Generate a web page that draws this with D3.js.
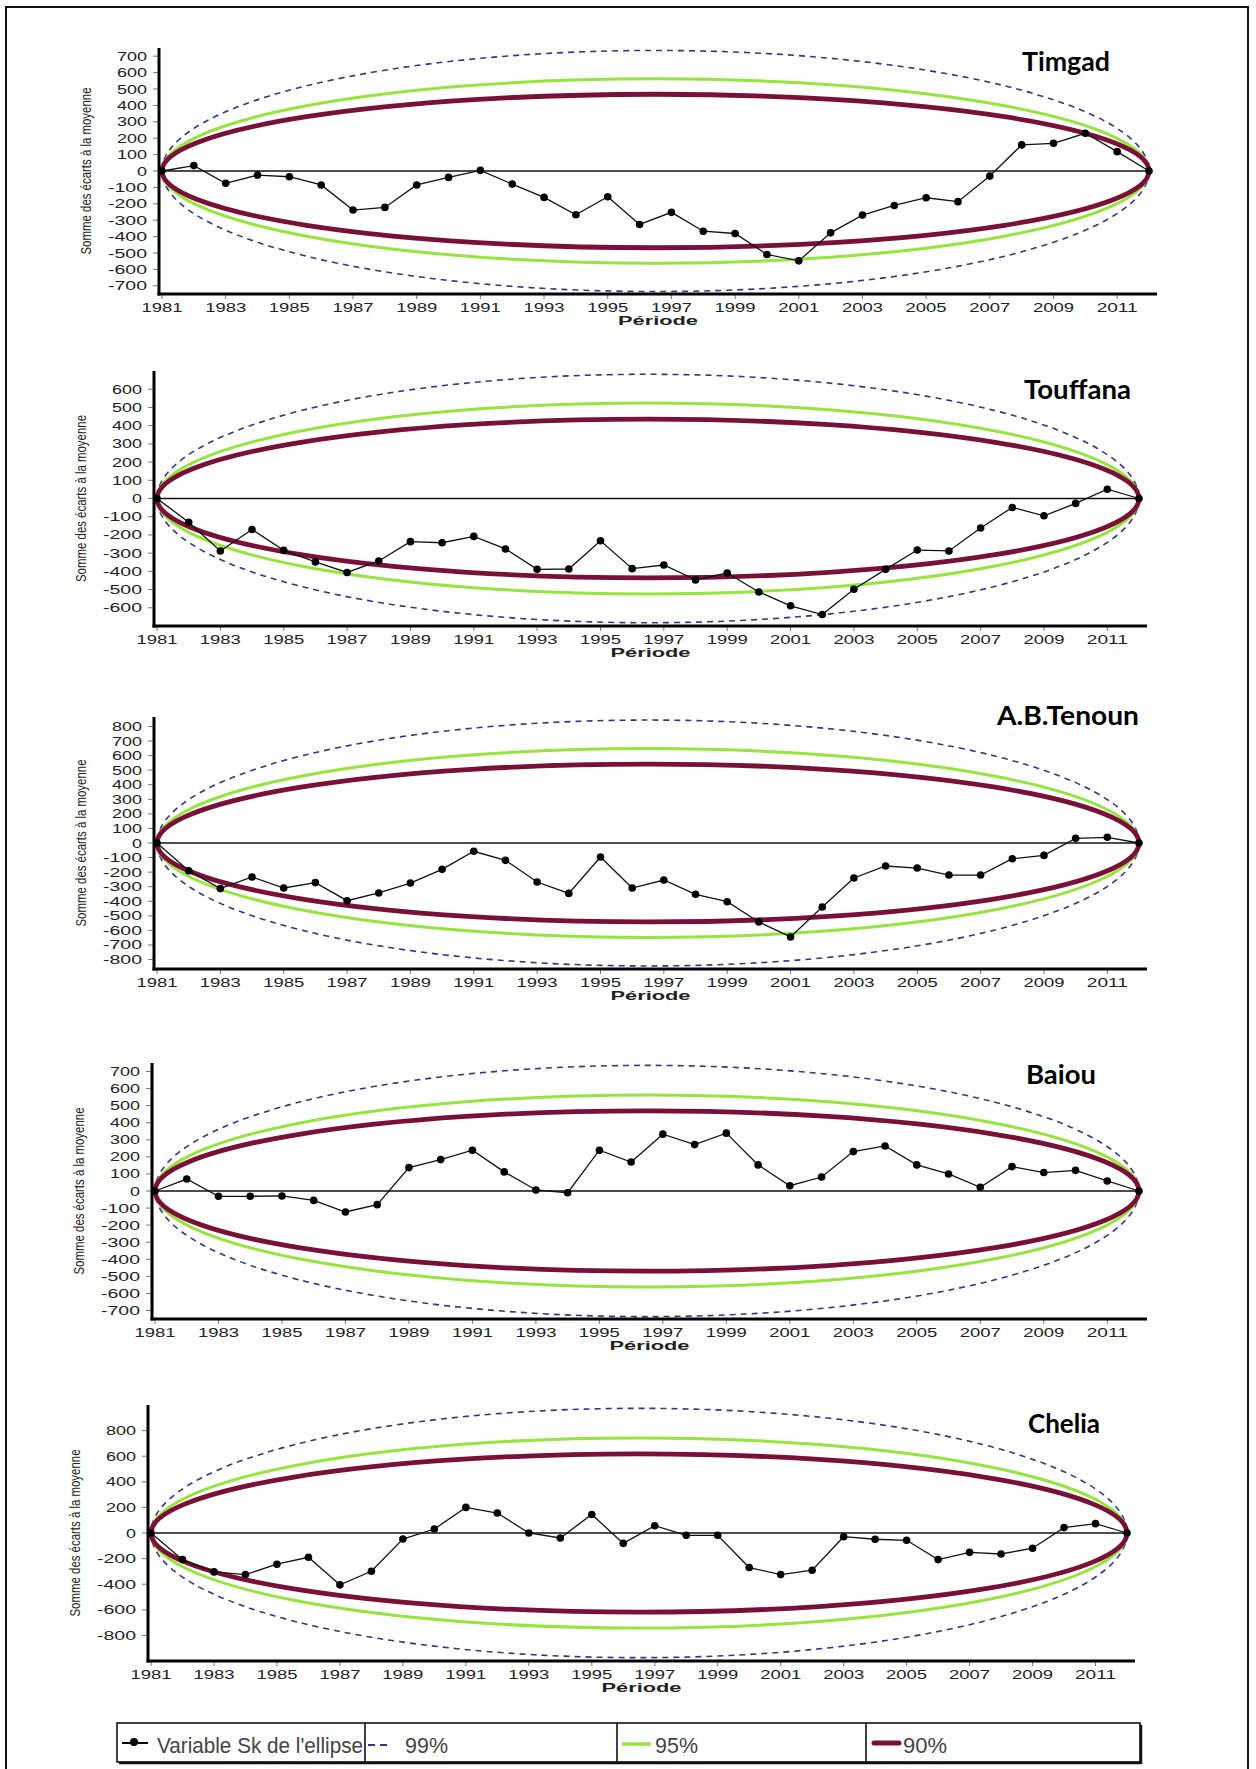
<!DOCTYPE html>
<html>
<head>
<meta charset="utf-8">
<script src="https://cdn.jsdelivr.net/npm/d3@7"></script>
<style>
  html, body { margin: 0; padding: 0; background: #fff; }
  svg { display: block; }
</style>
</head>
<body>
<svg id="chart" width="1256" height="1769"></svg>
<script>
// ---------------- DATA ----------------
const years = [1981,1982,1983,1984,1985,1986,1987,1988,1989,1990,1991,1992,1993,1994,1995,1996,
               1997,1998,1999,2000,2001,2002,2003,2004,2005,2006,2007,2008,2009,2010,2011,2012];
const stations = ["Timgad", "Touffana", "A.B.Tenoun", "Baiou", "Chelia"];

const timgad   = [0, 33, -75, -25, -35, -85, -238, -222, -85, -39, 4, -80, -161, -267, -157, -326,
                  -252, -367, -381, -509, -548, -377, -269, -210, -163, -187, -31, 159, 169, 230, 118, 0];
const touffana = [0, -130, -288, -170, -285, -348, -406, -343, -237, -243, -208, -277, -389, -387, -232, -385,
                  -365, -447, -409, -513, -589, -637, -498, -389, -283, -288, -162, -49, -95, -27, 51, 0];
const abTenoun = [0, -190, -313, -233, -309, -272, -396, -343, -275, -181, -57, -119, -268, -346, -96, -309,
                  -254, -352, -403, -542, -645, -439, -240, -158, -172, -220, -220, -108, -85, 32, 39, 0];
const baiou    = [0, 70, -31, -31, -29, -55, -123, -80, 137, 184, 239, 112, 6, -10, 239, 170,
                  333, 272, 339, 153, 31, 82, 231, 264, 153, 100, 22, 143, 108, 121, 59, 0];
const chelia   = [0, -208, -304, -325, -244, -190, -405, -299, -47, 31, 200, 156, 0, -39, 145, -81,
                  57, -18, -18, -270, -325, -291, -29, -49, -57, -208, -151, -164, -119, 42, 73, 0];
const seriesValues = [timgad, touffana, abTenoun, baiou, chelia];

// peak half-height of Bois control ellipses
const ellipse90 = [468, 436, 542, 470, 618];
const ellipse95 = [562, 524, 648, 562, 743];
const ellipse99 = [735, 682, 844, 736, 974];

const yTicksTimgad   = [-700,-600,-500,-400,-300,-200,-100,0,100,200,300,400,500,600,700];
const yTicksTouffana = [-600,-500,-400,-300,-200,-100,0,100,200,300,400,500,600];
const yTicksTenoun   = [-800,-700,-600,-500,-400,-300,-200,-100,0,100,200,300,400,500,600,700,800];
const yTicksBaiou    = [-700,-600,-500,-400,-300,-200,-100,0,100,200,300,400,500,600,700];
const yTicksChelia   = [-800,-600,-400,-200,0,200,400,600,800];
const yTickSets = [yTicksTimgad, yTicksTouffana, yTicksTenoun, yTicksBaiou, yTicksChelia];
const yLimits = [750, 700, 865, 750, 1000];

const xTickYears = [1981,1983,1985,1987,1989,1991,1993,1995,1997,1999,2001,2003,2005,2007,2009,2011];
const yAxisTitle = "Somme des écarts à la moyenne";
const xAxisTitle = "Période";
const legendLabels = ["Variable Sk de l'ellipse", "99%", "95%", "90%"];

// ---------------- LAYOUT (positions / styles) ----------------
const panels = [
  { x0: 162, x1: 1149, top: 48,   bottom: 294,  title: { x: 1022, y: 71,   w: 88 } },
  { x0: 157, x1: 1139, top: 371,  bottom: 626,  title: { x: 1024, y: 399,  w: 107 } },
  { x0: 157, x1: 1139, top: 717,  bottom: 969,  title: { x: 997,  y: 725,  w: 142 } },
  { x0: 155, x1: 1139, top: 1063, bottom: 1319, title: { x: 1026, y: 1084, w: 70 } },
  { x0: 151, x1: 1127, top: 1405, bottom: 1661, title: { x: 1028, y: 1433, w: 72 } }
];
const C90 = "#7a1038", C95 = "#96e43c", C99 = "#35358a";
const tickFont = "'Liberation Sans', Arial, sans-serif";

const svg = d3.select("#chart");
svg.append("rect").attr("width", 1256).attr("height", 1769).attr("fill", "#fff");

function labelWidth(v) {
  const s = String(Math.abs(v));
  return s.length * 10 + (v < 0 ? 9 : 0);
}

panels.forEach((p, i) => {
  const g = svg.append("g");
  const lim = yLimits[i];
  const x = d3.scaleLinear().domain([years[0], years[years.length - 1]]).range([p.x0, p.x1]);
  const y = d3.scaleLinear().domain([-lim, lim]).range([p.bottom, p.top]);
  const axisX = p.x0 - 3;
  const mid = (years[0] + years[years.length - 1]) / 2;

  // control ellipses
  const ells = [
    { v: ellipse99[i], c: C99, w: 1.6, dash: "6,5" },
    { v: ellipse95[i], c: C95, w: 3, dash: null },
    { v: ellipse90[i], c: C90, w: 4.8, dash: null }
  ];
  ells.forEach(e => {
    g.append("ellipse")
      .attr("cx", x(mid)).attr("cy", y(0))
      .attr("rx", x(years[years.length - 1]) - x(mid))
      .attr("ry", y(0) - y(e.v))
      .attr("fill", "none")
      .attr("stroke", e.c)
      .attr("stroke-width", e.w)
      .attr("stroke-dasharray", e.dash);
  });

  // zero line
  g.append("line")
    .attr("x1", axisX).attr("x2", x(years[years.length - 1]))
    .attr("y1", y(0)).attr("y2", y(0))
    .attr("stroke", "#111").attr("stroke-width", 1.3);

  // series
  const vals = seriesValues[i];
  const line = d3.line().x((d, k) => x(years[k])).y(d => y(d));
  g.append("path").datum(vals)
    .attr("d", line).attr("fill", "none")
    .attr("stroke", "#111").attr("stroke-width", 1.3);
  g.selectAll("circle.pt").data(vals).enter().append("circle")
    .attr("class", "pt")
    .attr("cx", (d, k) => x(years[k])).attr("cy", d => y(d))
    .attr("r", 3.8).attr("fill", "#000");

  // y ticks & labels
  yTickSets[i].forEach(t => {
    g.append("line")
      .attr("x1", axisX - 6).attr("x2", axisX)
      .attr("y1", y(t)).attr("y2", y(t))
      .attr("stroke", "#777").attr("stroke-width", 1);
    g.append("text")
      .attr("x", axisX - 12).attr("y", y(t) + 4.5)
      .attr("text-anchor", "end")
      .attr("font-family", tickFont).attr("font-size", 12)
      .attr("fill", "#222")
      .attr("textLength", labelWidth(t)).attr("lengthAdjust", "spacingAndGlyphs")
      .text(t);
  });

  // x ticks & labels
  xTickYears.forEach(yr => {
    g.append("line")
      .attr("x1", x(yr)).attr("x2", x(yr))
      .attr("y1", p.bottom).attr("y2", p.bottom + 5)
      .attr("stroke", "#777").attr("stroke-width", 1);
    g.append("text")
      .attr("x", x(yr)).attr("y", p.bottom + 18)
      .attr("text-anchor", "middle")
      .attr("font-family", tickFont).attr("font-size", 12.5)
      .attr("fill", "#222")
      .attr("textLength", 41).attr("lengthAdjust", "spacingAndGlyphs")
      .text(yr);
  });

  // axes lines
  g.append("line")
    .attr("x1", axisX).attr("x2", axisX)
    .attr("y1", p.top).attr("y2", p.bottom + 1.5)
    .attr("stroke", "#000").attr("stroke-width", 3);
  g.append("line")
    .attr("x1", axisX - 1.5).attr("x2", x(years[years.length - 1]) + 8)
    .attr("y1", p.bottom).attr("y2", p.bottom)
    .attr("stroke", "#000").attr("stroke-width", 3);

  // axis titles
  const yc = (p.top + p.bottom) / 2;
  g.append("text")
    .attr("transform", `translate(${axisX - 68},${yc}) rotate(-90)`)
    .attr("text-anchor", "middle")
    .attr("font-family", "'Liberation Sans Narrow', 'Liberation Sans', Arial, sans-serif")
    .attr("font-size", 15).attr("fill", "#222")
    .attr("textLength", 167).attr("lengthAdjust", "spacingAndGlyphs")
    .text(yAxisTitle);
  g.append("text")
    .attr("x", (axisX + x(years[years.length - 1]) + 8) / 2).attr("y", p.bottom + 31)
    .attr("text-anchor", "middle")
    .attr("font-family", tickFont).attr("font-size", 12.5).attr("font-weight", "bold")
    .attr("fill", "#222")
    .attr("textLength", 80).attr("lengthAdjust", "spacingAndGlyphs")
    .text(xAxisTitle);

  // station title
  g.append("text")
    .attr("x", p.title.x).attr("y", p.title.y)
    .attr("font-family", "Lato, 'Open Sans', sans-serif")
    .attr("font-size", 26).attr("font-weight", "bold").attr("fill", "#000")
    .attr("textLength", p.title.w).attr("lengthAdjust", "spacingAndGlyphs")
    .text(stations[i]);
});

// ---------------- LEGEND ----------------
const lg = svg.append("g");
const L = { x: 117, y: 1723, w: 1023, h: 39, dividers: [365, 617, 866] };
lg.append("rect").attr("x", L.x).attr("y", L.y).attr("width", L.w).attr("height", L.h)
  .attr("fill", "#fff").attr("stroke", "#111").attr("stroke-width", 1.6);
lg.append("line").attr("x1", L.x + 2).attr("x2", L.x + L.w + 1.5)
  .attr("y1", L.y + L.h + 1).attr("y2", L.y + L.h + 1).attr("stroke", "#111").attr("stroke-width", 2.5);
lg.append("line").attr("x1", L.x + L.w + 1).attr("x2", L.x + L.w + 1)
  .attr("y1", L.y + 2).attr("y2", L.y + L.h + 2).attr("stroke", "#111").attr("stroke-width", 2.5);
L.dividers.forEach(dx => {
  lg.append("line").attr("x1", dx).attr("x2", dx).attr("y1", L.y).attr("y2", L.y + L.h)
    .attr("stroke", "#111").attr("stroke-width", 1.6);
});
const ly = L.y + 20;
// series symbol
lg.append("line").attr("x1", 122).attr("x2", 148).attr("y1", ly).attr("y2", ly)
  .attr("stroke", "#000").attr("stroke-width", 2);
lg.append("circle").attr("cx", 134).attr("cy", ly - 1).attr("r", 4).attr("fill", "#000");
// 99 symbol
lg.append("line").attr("x1", 368).attr("x2", 389).attr("y1", ly + 2).attr("y2", ly + 2)
  .attr("stroke", C99).attr("stroke-width", 2).attr("stroke-dasharray", "7,5");
// 95 symbol
lg.append("line").attr("x1", 622).attr("x2", 651).attr("y1", ly + 1).attr("y2", ly + 1)
  .attr("stroke", C95).attr("stroke-width", 3.5);
// 90 symbol
lg.append("line").attr("x1", 874).attr("x2", 899).attr("y1", ly).attr("y2", ly)
  .attr("stroke", C90).attr("stroke-width", 5).attr("stroke-linecap", "round");

const legendText = [
  { x: 157, w: 206 }, { x: 405, w: 43 }, { x: 655, w: 43 }, { x: 903, w: 44 }
];
legendText.forEach((t, k) => {
  lg.append("text").attr("x", t.x).attr("y", L.y + 30)
    .attr("font-family", "'Liberation Sans Narrow', 'Liberation Sans', Arial, sans-serif")
    .attr("font-size", 22).attr("fill", "#444")
    .attr("textLength", t.w).attr("lengthAdjust", "spacingAndGlyphs")
    .text(legendLabels[k]);
});

// outer frame (bottom edge runs past the picture)
svg.append("rect").attr("x", 6).attr("y", 7).attr("width", 1242).attr("height", 1775)
  .attr("fill", "none").attr("stroke", "#111").attr("stroke-width", 2);
</script>
</body>
</html>
